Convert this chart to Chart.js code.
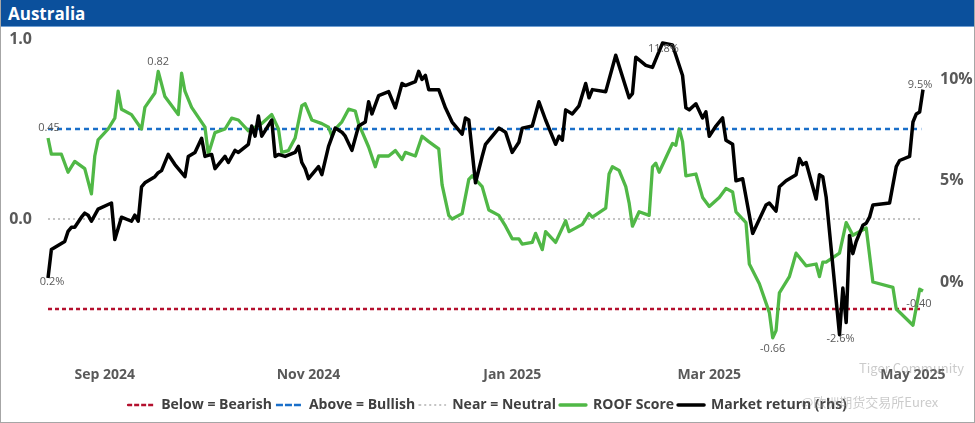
<!DOCTYPE html>
<html>
<head>
<meta charset="utf-8">
<script src="https://cdn.jsdelivr.net/npm/chart.js@4.4.1/dist/chart.umd.min.js"></script>
<style>
  body { margin: 0; background: #fff; }
  #frame {
    position: relative; width: 975px; height: 423px; box-sizing: border-box;
    border: 1px solid #a6a6a6; border-top: none; overflow: hidden;
  }
  #head {
    position: absolute; left: -1px; top: 0; width: 975px; height: 27px;
    background: #0b509c; border-bottom: 1px solid #6f9fd3;
    color: #fff; font: bold 17px "Open Sans", sans-serif; line-height: 27px;
    padding-left: 8px; box-sizing: border-box;
  }
  #wrap { position: absolute; left: 0; top: 27px; width: 973px; height: 395px; }
  .wm { position: absolute; color: rgba(140,140,140,0.45); font: 13px "Noto Sans CJK SC", sans-serif; }
</style>
</head>
<body>
<div id="frame">
  <div id="head">Australia</div>
  <div id="wrap"><canvas id="chart"></canvas></div>
  <div class="wm" style="left:858px; top:358px;">Tiger Community</div>
  <div class="wm" style="left:800px; top:392px;">@欧洲期货交易所Eurex</div>
</div>
<script>
// x values are days since 1 Sep 2024
const tickDays = [0, 61, 122, 181, 242];
const tickLabels = ['Sep 2024', 'Nov 2024', 'Jan 2025', 'Mar 2025', 'May 2025'];
const leftTicks = [0, 1];
const rightTicks = [0, 5, 10];

const roofDay = [
  -17, -16, -13, -11, -9, -6, -4, -3, -2, 1,
  3, 4, 5, 8, 11, 12, 15, 16, 18, 22,
  23, 24, 26, 30, 31, 33, 36, 38, 40, 43,
  45, 47, 50, 52, 53, 55, 57, 59, 60, 62,
  65, 67, 68, 69, 71, 73, 75, 76, 79, 81,
  82, 85, 87, 89, 90, 93, 95, 97, 100, 101,
  103, 104, 107, 109, 110, 113, 115, 118, 120, 122,
  124, 125, 128, 129, 131, 132, 135, 138, 139, 143,
  145, 146, 150, 151, 152, 154, 156, 157, 158, 160,
  163, 164, 165, 166, 168, 170, 171, 172, 173, 174,
  177, 179, 181, 184, 186, 188, 189, 192, 193, 196,
  199, 200, 201, 202, 205, 207, 210, 213, 214, 215,
  216, 220, 222, 224, 228, 230, 236, 237, 242, 244,
  245
];
const roofScore = [
  0.45, 0.36, 0.36, 0.26, 0.32, 0.28, 0.14, 0.35, 0.44, 0.50,
  0.56, 0.71, 0.61, 0.58, 0.50, 0.62, 0.70, 0.82, 0.68, 0.58,
  0.81, 0.71, 0.62, 0.51, 0.36, 0.48, 0.50, 0.56, 0.55, 0.49,
  0.51, 0.53, 0.58, 0.50, 0.37, 0.38, 0.45, 0.63, 0.64, 0.55,
  0.53, 0.51, 0.46, 0.50, 0.54, 0.61, 0.60, 0.53, 0.40, 0.29,
  0.35, 0.35, 0.38, 0.33, 0.37, 0.35, 0.46, 0.43, 0.39, 0.19,
  0.02, 0.00, 0.03, 0.22, 0.24, 0.18, 0.05, 0.02, -0.04, -0.11,
  -0.11, -0.14, -0.13, -0.08, -0.17, -0.07, -0.13, -0.01, -0.07, -0.03,
  0.03, 0.01, 0.06, 0.25, 0.29, 0.27, 0.18, 0.09, -0.04, 0.04,
  0.02, 0.29, 0.31, 0.26, 0.34, 0.42, 0.41, 0.50, 0.43, 0.24,
  0.25, 0.12, 0.07, 0.12, 0.17, 0.15, 0.04, -0.02, -0.25, -0.36,
  -0.52, -0.66, -0.62, -0.41, -0.32, -0.19, -0.26, -0.25, -0.32, -0.24,
  -0.24, -0.19, -0.02, -0.09, -0.05, -0.35, -0.38, -0.50, -0.59, -0.39,
  -0.40
];

const mktDay = [
  -17, -16, -14, -12, -11, -10, -9, -7, -6, -5,
  -4, -2, 2, 3, 5, 8, 9, 10, 11, 12,
  15, 16, 17, 19, 21, 24, 25, 27, 29, 30,
  32, 33, 36, 37, 39, 40, 43, 44, 45, 46,
  47, 50, 51, 52, 54, 57, 58, 59, 60, 61,
  64, 65, 67, 69, 71, 72, 74, 76, 78, 79,
  80, 82, 85, 87, 89, 90, 93, 94, 95, 96,
  97, 100, 102, 104, 107, 108, 109, 111, 113, 114,
  118, 120, 122, 124, 125, 128, 130, 132, 135, 136,
  137, 138, 140, 142, 144, 145, 146, 150, 153, 157,
  158, 159, 162, 164, 167, 170, 171, 173, 174, 175,
  177, 179, 180, 181, 183, 185, 186, 188, 189, 191,
  194, 198, 199, 201, 202, 204, 207, 208, 209, 210,
  213, 214, 215, 216, 220, 221, 222, 223, 224, 225,
  227, 228, 229, 230, 235, 237, 238, 241, 242, 243,
  244, 245
];
const mktReturn = [
  0.2, 1.6, 1.8, 2.0, 2.5, 2.7, 2.7, 3.2, 3.4, 3.3,
  3.0, 3.6, 3.9, 2.1, 3.2, 3.0, 3.3, 3.0, 4.7, 4.9,
  5.2, 5.4, 5.5, 6.3, 5.8, 5.2, 6.2, 6.4, 7.1, 6.2,
  6.3, 5.6, 6.2, 5.9, 6.5, 6.4, 6.8, 7.7, 7.2, 8.2,
  7.2, 8.0, 6.2, 6.3, 6.2, 6.4, 6.7, 5.9, 5.6, 5.1,
  5.7, 5.3, 6.7, 7.6, 7.4, 7.2, 6.5, 7.7, 7.9, 8.9,
  8.3, 9.2, 9.4, 8.6, 9.8, 9.7, 9.9, 10.4, 10.0, 10.2,
  9.5, 9.5, 8.6, 7.9, 7.3, 8.1, 8.0, 4.9, 6.2, 6.8,
  7.6, 7.4, 6.4, 6.9, 7.6, 7.7, 8.9, 8.0, 6.8, 7.2,
  7.0, 8.5, 8.3, 8.7, 9.8, 9.1, 9.5, 9.4, 11.2, 9.1,
  9.3, 11.1, 10.7, 10.6, 11.8, 11.7, 11.2, 10.2, 8.6, 8.5,
  8.8, 8.1, 8.4, 7.2, 7.7, 8.1, 7.0, 6.8, 5.0, 5.1,
  2.4, 3.8, 3.9, 3.5, 4.7, 5.0, 5.3, 6.1, 5.8, 5.9,
  4.1, 5.3, 5.2, 4.2, -2.6, -0.3, -2.0, 2.3, 1.4, 2.0,
  2.8, 2.9, 3.2, 3.8, 3.9, 5.7, 6.0, 6.2, 7.9, 8.3,
  8.4, 9.5
];

// threshold lines span the data range
const refSpan = [-17, 244.5];
const bearishLevel = -0.5;
const bullishLevel = 0.5;
const neutralLevel = 0;

const toPoints = (xs, ys) => xs.map((x, i) => ({ x: x, y: ys[i] }));
const flat = level => refSpan.map(x => ({ x: x, y: level }));

// labelled points: dataset index, day, offset of the text
const callouts = [
  { ds: 3, day: -17, dx: 1, dy: -10 },
  { ds: 3, day: 16, dx: 0, dy: -10 },
  { ds: 3, day: 200, dx: 0, dy: 11 },
  { ds: 3, day: 245, dx: -4, dy: 13 },
  { ds: 4, day: -17, dx: 4, dy: 4 },
  { ds: 4, day: 167, dx: 1, dy: 6 },
  { ds: 4, day: 220, dx: 1, dy: 4 },
  { ds: 4, day: 245, dx: -3, dy: -5 }
];

const calloutPlugin = {
  id: 'callouts',
  afterDatasetsDraw(chart) {
    const ctx = chart.ctx;
    ctx.save();
    ctx.font = '11px "Open Sans", sans-serif';
    ctx.fillStyle = '#595959';
    ctx.textAlign = 'center';
    ctx.textBaseline = 'middle';
    callouts.forEach(c => {
      const days = c.ds === 3 ? roofDay : mktDay;
      const i = days.indexOf(c.day);
      const pt = chart.getDatasetMeta(c.ds).data[i];
      if (!pt) return;
      const v = chart.data.datasets[c.ds].data[i].y;
      const txt = c.ds === 3 ? v.toFixed(2) : v.toFixed(1) + '%';
      ctx.fillText(txt, pt.x + c.dx, pt.y + c.dy);
    });
    ctx.restore();
  }
};

Chart.defaults.font.family = '"Open Sans", sans-serif';
Chart.defaults.color = '#595959';

new Chart(document.getElementById('chart'), {
  type: 'line',
  data: {
    datasets: [
      {
        label: 'Below = Bearish', data: flat(bearishLevel), yAxisID: 'y',
        borderColor: '#b4102e', borderWidth: 2.5, borderDash: [4, 3], order: 4
      },
      {
        label: 'Above = Bullish', data: flat(bullishLevel), yAxisID: 'y',
        borderColor: '#1a6fc9', borderWidth: 2.5, borderDash: [5, 4], order: 3
      },
      {
        label: 'Near = Neutral', data: flat(neutralLevel), yAxisID: 'y',
        borderColor: '#c4c4c4', borderWidth: 2, borderDash: [2, 3], order: 2
      },
      {
        label: 'ROOF Score', data: toPoints(roofDay, roofScore), yAxisID: 'y',
        borderColor: '#50b846', borderWidth: 3.3, order: 1
      },
      {
        label: 'Market return (rhs)', data: toPoints(mktDay, mktReturn), yAxisID: 'y1',
        borderColor: '#000000', borderWidth: 3.5, order: 0
      }
    ]
  },
  options: {
    responsive: true,
    maintainAspectRatio: false,
    animation: false,
    layout: { padding: { top: 12, left: 0, right: 0, bottom: 0 } },
    elements: {
      point: { radius: 0, hoverRadius: 0 },
      line: { tension: 0, fill: false, borderJoinStyle: 'round' }
    },
    scales: {
      x: {
        type: 'linear',
        min: -20,
        max: 246.5,
        grid: { display: false, drawTicks: false },
        border: { display: false },
        afterBuildTicks: s => { s.ticks = tickDays.map(v => ({ value: v })); },
        afterFit: s => { s.height = 31; },
        ticks: {
          autoSkip: false,
          maxRotation: 0,
          padding: 4,
          color: '#595959',
          font: { size: 14, weight: 'bold' },
          callback: v => tickLabels[tickDays.indexOf(v)]
        }
      },
      y: {
        position: 'left',
        min: -0.8,
        max: 1,
        grid: { display: false, tickLength: 6 },
        border: { display: false },
        afterBuildTicks: s => { s.ticks = leftTicks.map(v => ({ value: v })); },
        afterFit: s => { s.width = 37; },
        ticks: {
          padding: 0,
          color: '#595959',
          font: { size: 16, weight: 'bold' },
          callback: v => v.toFixed(1)
        }
      },
      y1: {
        position: 'right',
        min: -4,
        max: 12,
        grid: { display: false, tickLength: 12 },
        border: { display: false },
        afterBuildTicks: s => { s.ticks = rightTicks.map(v => ({ value: v })); },
        afterFit: s => { s.width = 46; },
        ticks: {
          padding: 0,
          color: '#595959',
          font: { size: 16, weight: 'bold' },
          callback: v => v + '%'
        }
      }
    },
    plugins: {
      legend: {
        position: 'bottom',
        labels: {
          boxWidth: 26,
          boxHeight: 0,
          padding: 4,
          color: '#404040',
          font: { size: 14, weight: 'bold' },
          sort: (a, b) => a.datasetIndex - b.datasetIndex
        }
      },
      tooltip: { enabled: false }
    }
  },
  plugins: [calloutPlugin]
});
</script>
</body>
</html>
